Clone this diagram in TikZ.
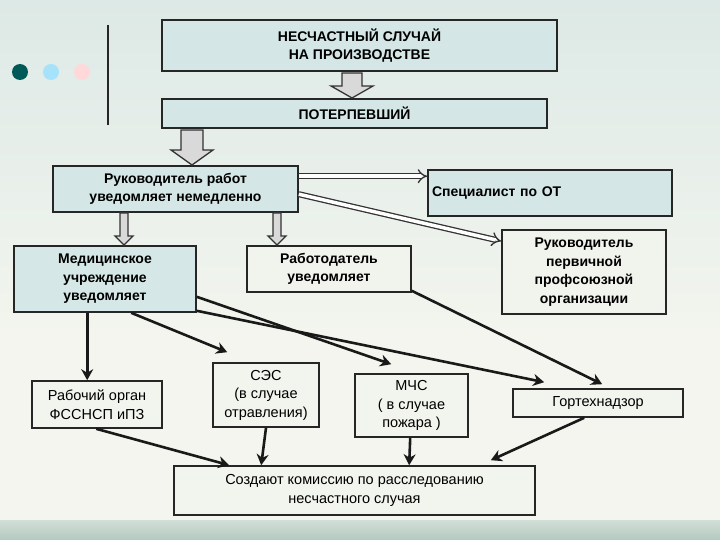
\documentclass[tikz,border=0pt]{standalone}
\usepackage{fontspec}
\setmainfont{Liberation Sans}
\usetikzlibrary{calc,arrows.meta}
\definecolor{bgA}{HTML}{DDE9E6}
\definecolor{bgB}{HTML}{F3F5EE}
\definecolor{boxA}{HTML}{D3E6E6}
\definecolor{boxB}{HTML}{F2F4EE}
\definecolor{band}{HTML}{B3C9BF}
\tikzset{
 upbox/.style={draw=black!85,line width=1.6pt,fill=boxA,fill opacity=0.9,text opacity=1,inner sep=0pt,align=center,font=\bfseries\fontsize{14}{18.5}\selectfont},
 lowbox/.style={draw=black!85,line width=1.6pt,fill=boxB,inner sep=0pt,align=center,font=\fontsize{14.5}{18.5}\selectfont},
 blk/.style={draw=black!80,line width=1.3pt,fill=black!15},
 dbl/.style={draw=black!80,double=white,double distance=3.5pt,line width=1.3pt,-{Implies[length=7pt,width=12pt]}},
 thk/.style={draw=black!90,line width=2.6pt,-{Stealth[length=11pt,width=12pt]}}
}
\newcommand{\blockarrow}[6]{% x, ytop, ybot, shaft half, head half, head len
 \draw[blk] (#1-#4,#2) -- (#1+#4,#2) -- (#1+#4,#3-#6) -- (#1+#5,#3-#6) -- (#1,#3) -- (#1-#5,#3-#6) -- (#1-#4,#3-#6) -- cycle;}
\begin{document}
\begin{tikzpicture}[x=1pt,y=-1pt]
\useasboundingbox (0,0) rectangle (720,540);
\shade[top color=bgA,bottom color=bgB] (0,0) rectangle (720,335);
\fill[bgB] (0,335) rectangle (720,520);
\shade[top color=band!60,bottom color=band] (0,520) rectangle (720,540);
\draw[black!85,line width=1.5pt] (108,25) -- (108,125);
\fill[teal!70!black] (20,72) circle (8);
\fill[cyan!35] (51,72) circle (8);
\fill[red!15] (82,72) circle (8);

\node[upbox,minimum width=395pt,minimum height=51pt] (t) at (359.5,45.5) {НЕСЧАСТНЫЙ СЛУЧАЙ\\НА ПРОИЗВОДСТВЕ};
\node[upbox,minimum width=385pt,minimum height=29pt] (p) at (354.5,113.5) {ПОТЕРПЕВШИЙ};
\node[upbox,minimum width=245pt,minimum height=46pt] (r) at (175.5,189) {Руководитель работ\\уведомляет немедленно};
\node[upbox,minimum width=244pt,minimum height=46pt,text width=236pt,align=left] (s) at (550,193) {Специалист по ОТ\\[10pt]};
\node[upbox,minimum width=164pt,minimum height=84pt,fill=boxB] (f) at (584,272) {Руководитель\\первичной\\профсоюзной\\организации};
\node[upbox,minimum width=182pt,minimum height=66pt] (m) at (105,279) {Медицинское\\учреждение\\уведомляет};
\node[upbox,minimum width=164pt,minimum height=46pt,fill=boxB] (w) at (329,269) {Работодатель\\уведомляет};

\node[lowbox,minimum width=130pt,minimum height=47pt] (ro) at (97,404.5) {Рабочий орган\\ФССНСП иПЗ};
\node[lowbox,minimum width=106pt,minimum height=64pt] (se) at (266,395) {СЭС\\(в случае\\отравления)};
\node[lowbox,minimum width=113pt,minimum height=63pt] (mc) at (411.5,405.5) {МЧС\\( в случае\\пожара )};
\node[lowbox,minimum width=170pt,minimum height=28pt] (g) at (598,403) {Гортехнадзор};
\node[lowbox,minimum width=361pt,minimum height=49pt] (c) at (354.5,490.5) {Создают комиссию по расследованию\\несчастного случая};

\blockarrow{352}{73}{98}{10}{21}{12}
\blockarrow{192}{130}{165}{11}{21}{15}
\blockarrow{124}{213}{245}{4}{9}{9}
\blockarrow{277}{213}{245}{4}{9}{9}

\draw[dbl] ($(r.north east)+(0,11)$) -- ($(s.north west)+(0,7)$);
\draw[dbl] ($(r.north east)+(0,29)$) -- ($(f.north west)+(0,12)$);

\draw[thk] ($(m.south west)+(74,0)$) -- ($(ro.north west)+(56,0)$);
\draw[thk] ($(m.south west)+(118,0)$) -- ($(se.north west)+(15,-10)$);
\draw[thk] ($(m.south east)+(0,-16)$) -- ($(mc.north west)+(37,-9)$);
\draw[thk] ($(m.south east)+(0,-2)$) -- ($(g.north west)+(32,-6)$);
\draw[thk] ($(w.south east)+(0,-2)$) -- ($(g.north west)+(90,-4)$);

\draw[thk] ($(ro.south west)+(65,0)$) -- ($(c.north west)+(56,0)$);
\draw[thk] (se.south) -- ($(c.north west)+(88,0)$);
\draw[thk] ($(mc.south west)+(56,0)$) -- ($(c.north west)+(236,0)$);
\draw[thk] ($(g.south west)+(72,0)$) -- ($(c.north east)+(-45,-5)$);
\end{tikzpicture}
\end{document}
